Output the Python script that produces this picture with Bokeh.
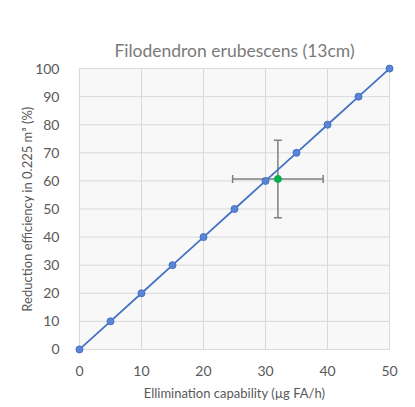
from bokeh.plotting import figure
from bokeh.models import ColumnDataSource, Whisker, TeeHead, FixedTicker, Range1d
from bokeh.embed import file_html
from bokeh.resources import INLINE

# data
capability = [0, 5, 10, 15, 20, 25, 30, 35, 40, 45, 50]
efficiency = [0, 10, 20, 30, 40, 50, 60, 70, 80, 90, 100]
measured_x = [32.0]
measured_y = [60.7]
measured_xerr = [7.3]
measured_yerr = [13.8]
x_ticks = [0, 10, 20, 30, 40, 50]
y_ticks = [0, 10, 20, 30, 40, 50, 60, 70, 80, 90, 100]
x_min, x_max = 0, 50
y_min, y_max = 0, 100

FONT = "Lato"
TXT = "#595959"

# small padding so that markers at the corners are not clipped
XPAD, YPAD = 0.8, 1.8

p = figure(width=407, height=405, output_backend="svg", toolbar_location=None,
           x_range=Range1d(x_min - XPAD, x_max + XPAD),
           y_range=Range1d(y_min - YPAD, y_max + YPAD),
           min_border_left=74, min_border_right=13, min_border_top=63, min_border_bottom=51)

p.title.text = "Filodendron erubescens (13cm)"
p.title.align = "center"
p.title.text_font = FONT
p.title.text_font_size = "17.5px"
p.title.text_font_style = "normal"
p.title.text_color = "#7a7a7a"
p.title.standoff = 6

p.background_fill_color = "white"
p.border_fill_color = "white"
p.outline_line_color = None
p.xgrid.visible = False
p.ygrid.visible = False

for ax in (p.xaxis[0], p.yaxis[0]):
    ax.axis_line_color = None
    ax.major_tick_line_color = None
    ax.minor_tick_line_color = None
    ax.major_label_text_font = FONT
    ax.major_label_text_font_size = "14px"
    ax.major_label_text_color = TXT
    ax.axis_label_text_font = FONT
    ax.axis_label_text_font_size = "13px"
    ax.axis_label_text_font_style = "normal"
    ax.axis_label_text_color = TXT

p.xaxis.ticker = FixedTicker(ticks=x_ticks)
p.yaxis.ticker = FixedTicker(ticks=y_ticks)
p.xaxis.axis_label = "Ellimination capability (µg FA/h)"
p.yaxis.axis_label = "Reduction efficiency in 0.225 m³ (%)"
p.xaxis.major_label_standoff = 5
p.yaxis.major_label_standoff = 9
p.xaxis.axis_label_standoff = 6
p.yaxis.axis_label_standoff = -3

# plot area and grid
p.quad(left=[x_min], right=[x_max], bottom=[y_min], top=[y_max],
       fill_color="#f8f8f8", line_color=None, level="image")
p.segment(x0=x_ticks, y0=[y_min] * len(x_ticks), x1=x_ticks, y1=[y_max] * len(x_ticks),
          line_color="#d9d9d9", line_width=1, level="image")
p.segment(x0=[x_min] * len(y_ticks), y0=y_ticks, x1=[x_max] * len(y_ticks), y1=y_ticks,
          line_color="#d9d9d9", line_width=1, level="image")

src = ColumnDataSource(dict(x=capability, y=efficiency))
p.line("x", "y", source=src, line_color="#4472C4", line_width=1.8)
p.scatter("x", "y", source=src, size=7, fill_color="#5a84d4", line_color="#4472C4", line_width=1)

msrc = ColumnDataSource(dict(
    x=measured_x, y=measured_y,
    xl=[a - b for a, b in zip(measured_x, measured_xerr)],
    xu=[a + b for a, b in zip(measured_x, measured_xerr)],
    yl=[a - b for a, b in zip(measured_y, measured_yerr)],
    yu=[a + b for a, b in zip(measured_y, measured_yerr)],
))
EB = "#7f7f7f"
wx = Whisker(source=msrc, base="y", lower="xl", upper="xu", dimension="width",
             line_color=EB, line_width=1.5, level="underlay",
             lower_head=TeeHead(size=8, line_color=EB, line_width=1.5),
             upper_head=TeeHead(size=8, line_color=EB, line_width=1.5))
wy = Whisker(source=msrc, base="x", lower="yl", upper="yu", dimension="height",
             line_color=EB, line_width=1.5, level="underlay",
             lower_head=TeeHead(size=8, line_color=EB, line_width=1.5),
             upper_head=TeeHead(size=8, line_color=EB, line_width=1.5))
p.add_layout(wx)
p.add_layout(wy)
p.scatter("x", "y", source=msrc, size=7, fill_color="#00B050", line_color="#00B050")

open("out.html", "w").write(file_html(p, INLINE))
